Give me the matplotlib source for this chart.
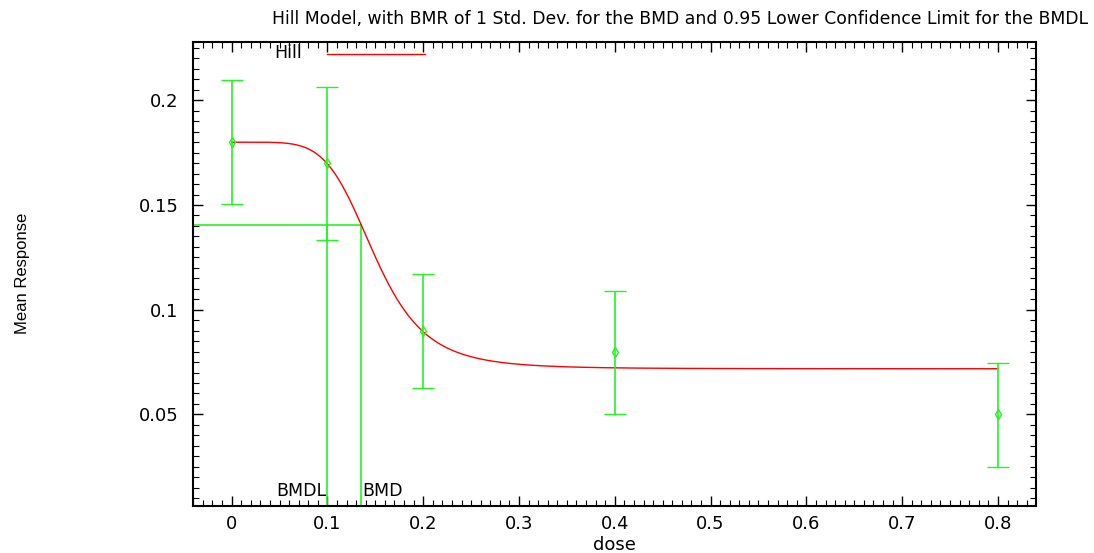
import numpy as np
import matplotlib
matplotlib.use("Agg")
import matplotlib.pyplot as plt
from matplotlib.ticker import MultipleLocator, FixedLocator

# Data
dose = [0.0, 0.1, 0.2, 0.4, 0.8]
mean = [0.18, 0.17, 0.09, 0.08, 0.05]
upper = [0.2096, 0.2065, 0.1169, 0.1091, 0.0747]
lower = [0.1506, 0.1333, 0.0626, 0.0504, 0.0250]

# Hill model parameters (fitted curve)
hill_intercept = 0.18
hill_v = -0.1082
hill_n = 5.6
hill_k = 0.1494

bmd = 0.1353
bmdl = 0.0999
bmr_response = 0.1405

xticks = [0, 0.1, 0.2, 0.3, 0.4, 0.5, 0.6, 0.7, 0.8]
yticks = [0.05, 0.1, 0.15, 0.2]

plt.rcParams['font.family'] = ['DejaVu Sans']

fig = plt.figure(figsize=(10.94, 5.53), dpi=100)
ax = fig.add_axes([193/1094, 1 - 505.7/553, (1036 - 193)/1094, (505.7 - 42.3)/553])

green = '#22f522'
red = '#ff0000'

x_lo, x_hi = -0.0403, 0.8397
y_lo, y_hi = 0.0064, 0.2277
ax.set_xlim(x_lo, x_hi)
ax.set_ylim(y_lo, y_hi)

xs = np.linspace(dose[0], dose[-1], 600)
ys = hill_intercept + hill_v * xs**hill_n / (hill_k**hill_n + xs**hill_n)
ax.plot(xs, ys, color=red, lw=1.0, zorder=3)

m = np.array(mean)
ax.errorbar(dose, mean, yerr=[m - np.array(lower), np.array(upper) - m],
            fmt='d', color=green, mfc='none', mec=green, ms=5, mew=1.0,
            ecolor=green, elinewidth=1.2, capsize=8, capthick=1.2, zorder=4)

# BMD / BMDL lines
ax.plot([x_lo, bmd], [bmr_response, bmr_response], color=green, lw=1.2, zorder=2)
ax.plot([bmd, bmd], [y_lo, bmr_response], color=green, lw=1.2, zorder=2)
ax.plot([bmdl, bmdl], [y_lo, bmr_response], color=green, lw=1.2, zorder=2)
ax.text(bmdl - 0.001, 0.0132, 'BMDL', ha='right', va='center', fontsize=12.5)
ax.text(bmd + 0.001, 0.0132, 'BMD', ha='left', va='center', fontsize=12.5)

# Legend
ax.text(0.044, 0.2227, 'Hill', ha='left', va='center', fontsize=12.5)
ax.plot([0.0995, 0.2015], [0.2221, 0.2221], color=red, lw=1.0)

ax.xaxis.set_major_locator(FixedLocator(xticks))
ax.yaxis.set_major_locator(FixedLocator(yticks))
ax.xaxis.set_minor_locator(MultipleLocator(0.01))
ax.yaxis.set_minor_locator(MultipleLocator(0.005))
ax.set_xticklabels([('%g' % t) for t in xticks])
ax.set_yticklabels([('%g' % t) for t in yticks])
ax.tick_params(which='both', direction='in', top=True, right=True, labelsize=13)
ax.tick_params(axis='x', pad=7)
ax.tick_params(axis='y', pad=10.5)
ax.tick_params(which='major', length=7, width=1)
ax.tick_params(which='minor', length=4, width=0.8)
for s in ax.spines.values():
    s.set_linewidth(1.5)

fig.text(680/1094, 1 - 19/553, 'Hill Model, with BMR of 1 Std. Dev. for the BMD and 0.95 Lower Confidence Limit for the BMDL',
         ha='center', va='center', fontsize=12.4)
fig.text(614/1094, 1 - 545/553, 'dose', ha='center', va='center', fontsize=13)
fig.text(23/1094, 1 - 273/553, 'Mean Response', ha='center', va='center', rotation=90,
         fontsize=12, family=['Liberation Sans'])

fig.savefig('out.png', dpi=100)
